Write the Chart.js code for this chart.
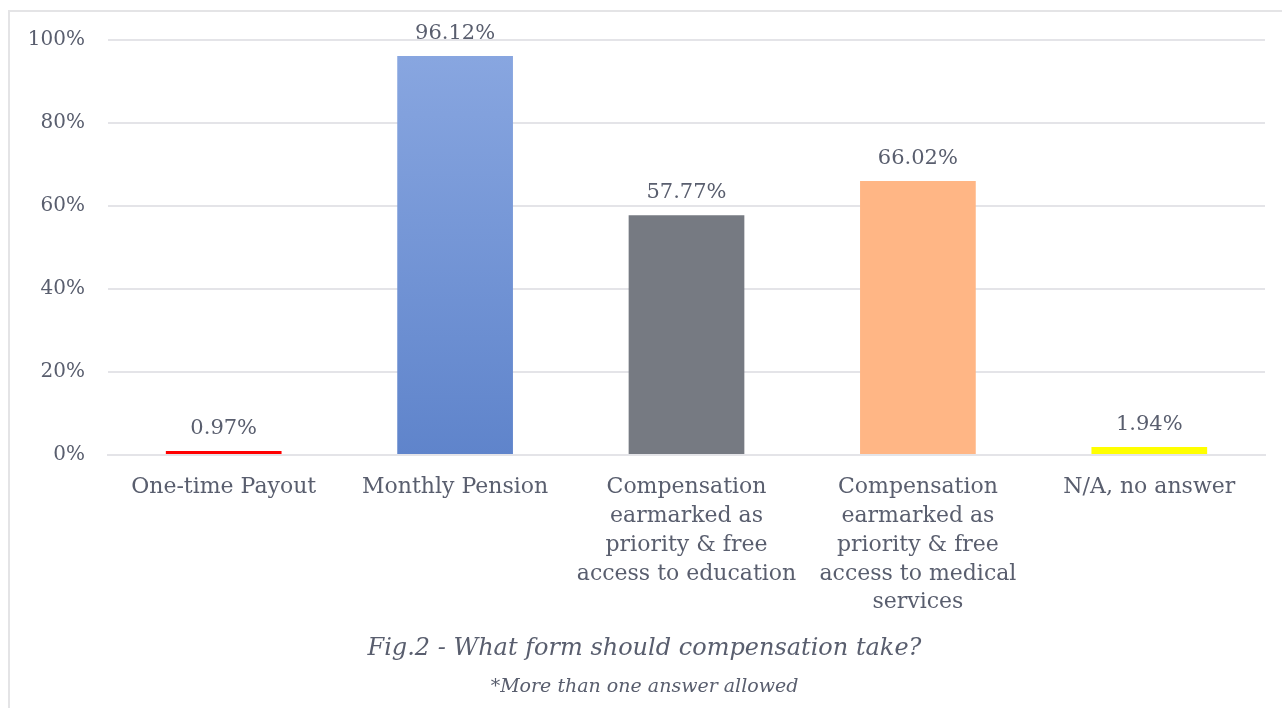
<!DOCTYPE html>
<html>
<head>
<meta charset="utf-8">
<script src="https://cdn.jsdelivr.net/npm/chart.js@4/dist/chart.umd.min.js"></script>
<style>
  html, body { margin: 0; padding: 0; background: #ffffff; }
  #wrap { position: relative; width: 1282px; height: 708px; overflow: hidden; }
  #frame { position: absolute; left: 8px; top: 10px; width: 1290px; height: 720px;
           border: 2px solid #e4e4e6; box-sizing: border-box; }
  #c { position: absolute; left: 0; top: 0; }
</style>
</head>
<body>
<div id="wrap">
  <div id="frame"></div>
  <canvas id="c" width="1282" height="708"></canvas>
</div>
<script>
// Survey answers: what form compensation should take (multiple answers allowed)
const categories = [
  ['One-time Payout'],
  ['Monthly Pension'],
  ['Compensation', 'earmarked as', 'priority & free', 'access to education'],
  ['Compensation', 'earmarked as', 'priority & free', 'access to medical', 'services'],
  ['N/A, no answer']
];
const shares = [0.97, 96.12, 57.77, 66.02, 1.94];
const yTicks = [0, 20, 40, 60, 80, 100];
const barColors = ['#ff0000', null, '#767a82', '#ffb685', '#ffff00'];
const captionTitle = 'Fig.2 - What form should compensation take?';
const captionNote = '*More than one answer allowed';

const FONT = "'DejaVu Serif', serif";
const TEXT = '#595e6e';

function barFill(ctx) {
  const i = ctx.dataIndex;
  if (barColors[i]) return barColors[i];
  const chart = ctx.chart;
  if (!chart.chartArea) return '#7396d8';
  const ys = chart.scales.y;
  const g = chart.ctx.createLinearGradient(0, ys.getPixelForValue(shares[i]), 0, ys.getPixelForValue(0));
  g.addColorStop(0, '#88a6e0');
  g.addColorStop(1, '#5f84cb');
  return g;
}

// Writes each bar's percentage just above it
const valueLabels = {
  id: 'valueLabels',
  afterDatasetsDraw(chart) {
    const ctx = chart.ctx;
    const meta = chart.getDatasetMeta(0);
    ctx.save();
    ctx.font = '21px ' + FONT;
    ctx.fillStyle = TEXT;
    ctx.textAlign = 'center';
    ctx.textBaseline = 'bottom';
    meta.data.forEach((bar, i) => {
      ctx.fillText(shares[i].toFixed(2) + '%', bar.x, bar.y - 12);
    });
    ctx.restore();
  }
};

// Figure caption under the category labels
const caption = {
  id: 'caption',
  afterDraw(chart) {
    const ctx = chart.ctx;
    const cx = (chart.chartArea.left + chart.chartArea.right) / 2 - 42;
    ctx.save();
    ctx.fillStyle = TEXT;
    ctx.textAlign = 'center';
    ctx.textBaseline = 'alphabetic';
    ctx.font = 'italic 24px ' + FONT;
    ctx.fillText(captionTitle, cx, 655);
    ctx.font = 'italic 19px ' + FONT;
    ctx.fillText(captionNote, cx, 692);
    ctx.restore();
  }
};

new Chart(document.getElementById('c'), {
  type: 'bar',
  data: {
    labels: categories,
    datasets: [{
      data: shares,
      backgroundColor: barFill,
      borderWidth: 0,
      categoryPercentage: 1.0,
      barPercentage: 0.5
    }]
  },
  options: {
    responsive: false,
    animation: false,
    devicePixelRatio: 1,
    layout: { padding: { left: 0, right: 17, top: 40, bottom: 0 } },
    plugins: {
      legend: { display: false },
      tooltip: { enabled: false },
      title: { display: false }
    },
    scales: {
      x: {
        afterFit(scale) { scale.height = 253; },
        grid: { display: false, drawTicks: false },
        border: { display: true, color: '#e4e4e8', width: 2 },
        ticks: {
          color: TEXT,
          font: { family: FONT, size: 22, lineHeight: 1.31 },
          padding: 18,
          maxRotation: 0,
          autoSkip: false
        }
      },
      y: {
        min: 0,
        max: 100,
        afterFit(scale) { scale.width = 108; },
        afterBuildTicks(scale) { scale.ticks = yTicks.map(v => ({ value: v })); },
        grid: { color: '#e4e4e8', lineWidth: 2, drawTicks: false },
        border: { display: false },
        ticks: {
          color: TEXT,
          font: { family: FONT, size: 20 },
          padding: 23,
          callback: v => v + '%'
        }
      }
    }
  },
  plugins: [valueLabels, caption]
});
</script>
</body>
</html>
